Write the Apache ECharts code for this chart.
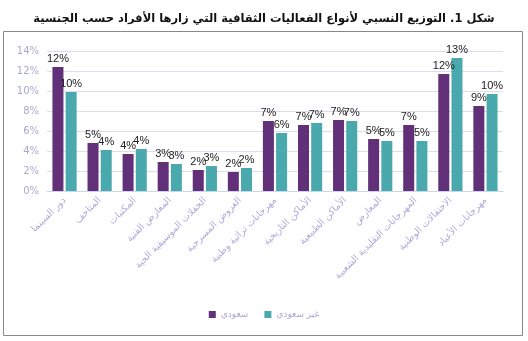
<!DOCTYPE html>
<html><head><meta charset="utf-8">
<script src="https://cdn.jsdelivr.net/npm/echarts@6/dist/echarts.min.js"></script>
<style>html,body{margin:0;padding:0;background:#fff}#c{width:528px;height:341px}</style>
</head><body><div id="c"></div>
<script>
const titleText = 'شكل 1. التوزيع النسبي لأنواع الفعاليات الثقافية التي زارها الأفراد حسب الجنسية';
const categories = ['دور السينما','المتاحف','المكتبات','المعارض الفنية','الحفلات الموسيقية الحية','العروض المسرحية','مهرجانات تراثية وطنية','الأماكن التاريخية','الأماكن الطبيعية','المعارض','المهرجانات التقليدية الشعبية','الاحتفالات الوطنية','مهرجانات الأعياد'];
const seriesNames = ['سعودي','غير سعودي'];
const saudi = [12.4,4.8,3.7,2.9,2.1,1.9,7.0,6.6,7.1,5.2,6.6,11.7,8.5];
const nonSaudi = [9.9,4.1,4.2,2.7,2.5,2.3,5.8,6.8,7.0,5.0,5.0,13.3,9.7];
const yTicks = {min:0, max:14, interval:2};

const ar = "'DejaVu Sans', sans-serif";
const chart = echarts.init(document.getElementById('c'), null, {renderer:'canvas'});
const lbl = {show:true, position:'top', distance:3, color:'#222', fontSize:11, fontFamily:'Liberation Sans, Arial, sans-serif',
  formatter: p => Math.round(p.value) + '%'};
chart.setOption({
  animation:false,
  title:{text:titleText, left:'center', top:8, textStyle:{fontFamily:ar, fontWeight:'bold', fontSize:11.5, color:'#111'}},
  graphic:[{type:'rect', shape:{x:3.5, y:31.5, width:519, height:304}, style:{fill:'none', stroke:'#888', lineWidth:1}, silent:true}],
  grid:{left:47, right:25, top:51, bottom:150},
  legend:{data:seriesNames, bottom:17, left:'center', itemWidth:7, itemHeight:7, itemGap:16,
    textStyle:{color:'#a9a6d4', fontSize:9, fontFamily:ar}, icon:'rect'},
  xAxis:{type:'category', data:categories,
    axisLine:{lineStyle:{color:'#c9d6ec'}}, axisTick:{show:false},
    axisLabel:{rotate:45, interval:0, color:'#aeaadb', fontSize:9.5, fontFamily:ar, margin:8}},
  yAxis:{type:'value', min:yTicks.min, max:yTicks.max, interval:yTicks.interval,
    axisLabel:{formatter:'{value}%', color:'#a9a9cf', fontSize:10, fontFamily:'DejaVu Sans, sans-serif'},
    splitLine:{lineStyle:{color:'#dcdcea'}}, axisLine:{show:false}, axisTick:{show:false}},
  series:[
    {name:seriesNames[0], type:'bar', data:saudi, barWidth:11, barGap:'20%', itemStyle:{color:'#613079'}, label:lbl},
    {name:seriesNames[1], type:'bar', data:nonSaudi, barWidth:11, itemStyle:{color:'#4aa9ad'}, label:lbl}
  ]
});
</script></body></html>
